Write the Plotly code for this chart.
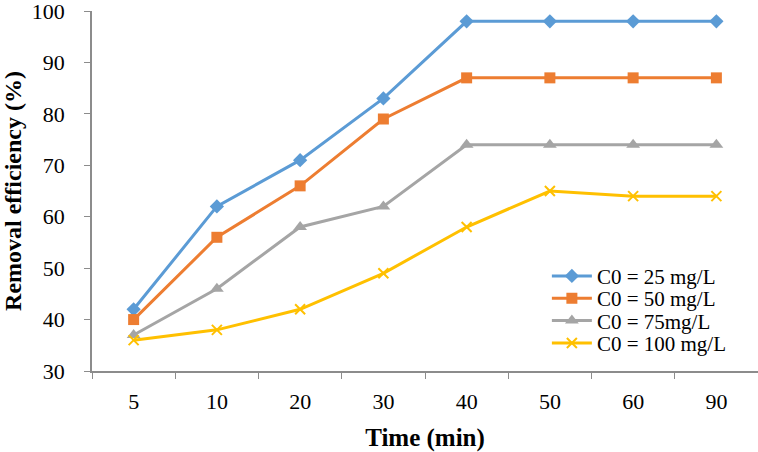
import plotly.graph_objects as go

time_labels = ["5", "10", "20", "30", "40", "50", "60", "90"]
c25 = [42, 62, 71, 83, 98, 98, 98, 98]
c50 = [40, 56, 66, 79, 87, 87, 87, 87]
c75 = [37, 46, 58, 62, 74, 74, 74, 74]
c100 = [36, 38, 42, 49, 58, 65, 64, 64]

series = [
    ("C0 = 25 mg/L", c25, "#5B9BD5", "diamond", 11),
    ("C0 = 50 mg/L", c50, "#ED7D31", "square", 11),
    ("C0 = 75mg/L", c75, "#A5A5A5", "triangle-up", 12),
    ("C0 = 100 mg/L", c100, "#FFC000", "x-thin", 10),
]
legend_ids = ["legend", "legend2", "legend3", "legend4"]
legend_y = [0.263, 0.201, 0.139, 0.077]

fig = go.Figure()
for (name, vals, color, sym, size), lid in zip(series, legend_ids):
    marker = dict(symbol=sym, size=size, color=color)
    if sym == "x-thin":
        marker["line"] = dict(color=color, width=2)
    fig.add_trace(go.Scatter(
        x=time_labels, y=vals, name=name, mode="lines+markers",
        line=dict(color=color, width=3), marker=marker, legend=lid,
        showlegend=True,
    ))

font_family = "Liberation Serif, Times New Roman, serif"
legend_layout = {}
for lid, ly in zip(legend_ids, legend_y):
    legend_layout[lid] = dict(
        x=0.683, y=ly, xanchor="left", yanchor="middle",
        bgcolor="rgba(0,0,0,0)", font=dict(size=21, family=font_family),
        itemwidth=40, borderwidth=0,
    )

fig.update_layout(
    width=758, height=452,
    showlegend=True,
    margin=dict(l=92, r=0, t=11, b=81),
    plot_bgcolor="white", paper_bgcolor="white",
    font=dict(family=font_family, size=22, color="black"),
    xaxis=dict(
        type="category", showgrid=False, showline=True, automargin=False,
        linecolor="#8C8C8C", linewidth=1.5,
        ticks="outside", tickson="boundaries", ticklen=6, tickcolor="#8C8C8C",
        ticklabelstandoff=10,
        title=dict(text="<b>Time (min)</b>", font=dict(size=25), standoff=16),
        range=[-0.5, 7.5],
    ),
    yaxis=dict(
        range=[30, 100], dtick=10, showgrid=False, showline=True, automargin=False,
        linecolor="#8C8C8C", linewidth=1.5,
        ticks="outside", ticklen=6, tickcolor="#8C8C8C",
        ticklabelstandoff=15, ticklabeloverflow="allow",
        title=dict(text="<b>Removal efficiency (%)</b>", font=dict(size=24), standoff=14),
    ),
    **legend_layout,
)

fig.write_html("out.html", config={"displayModeBar": False},
               post_script="document.body.style.margin='0';")
